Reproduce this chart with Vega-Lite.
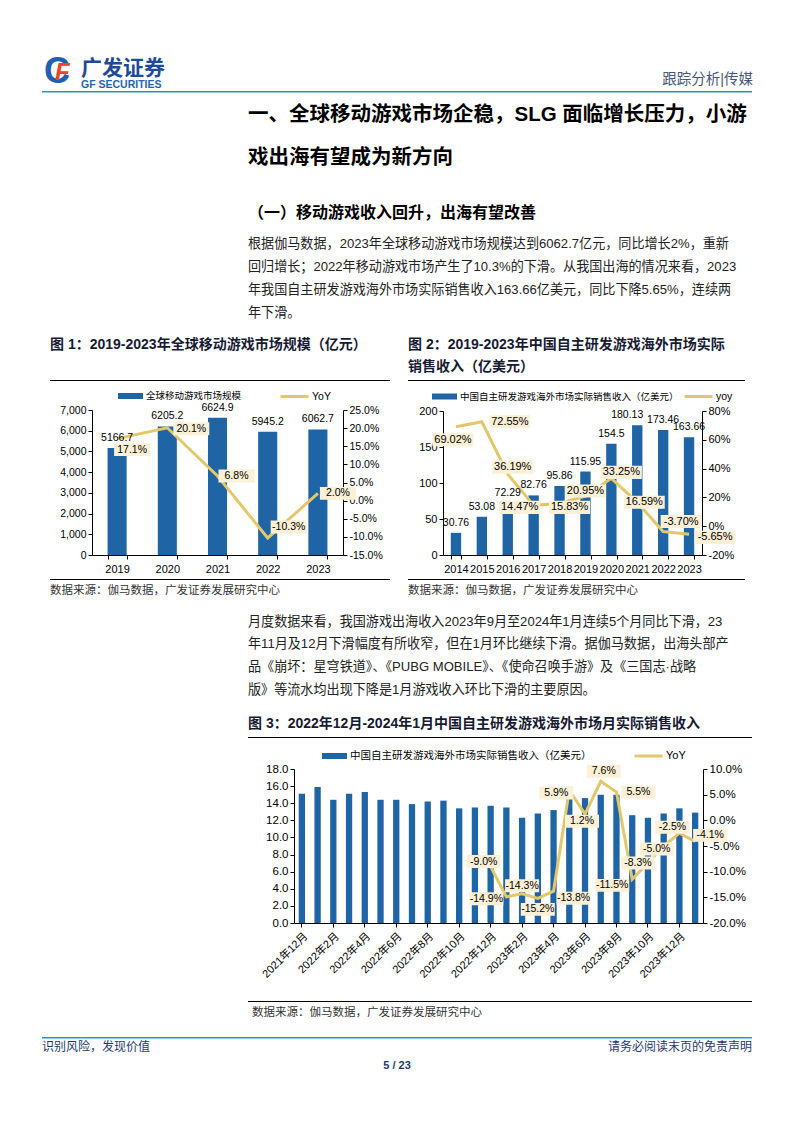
{
  "$schema": "https://vega.github.io/schema/vega-lite/v6.json",
  "background": "#ffffff",
  "padding": {"left": 42, "top": 0, "right": 0, "bottom": 0},
  "config": {
    "font": "Liberation Sans, Noto Sans CJK SC",
    "view": {"stroke": null},
    "axis": {"grid": false, "domainColor": "#000000", "tickColor": "#000000", "labelColor": "#000000", "labelFontSize": 10.5, "tickSize": 4, "labelFont": "Liberation Sans, Noto Sans CJK SC"},
    "locale": {"number": {"decimal": ".", "thousands": ",", "grouping": [3], "currency": ["", ""], "minus": "-"}},
    "title": {"orient": "bottom", "anchor": "start", "baseline": "top", "fontWeight": "normal", "font": "Liberation Sans, Noto Sans CJK SC"}
  },
  "spacing": 0,
  "resolve": {"scale": {"fill": "independent", "stroke": "independent"}},
  "vconcat": [
    {
      "hconcat": [
        {"width": 0.01, "height": 91, "view": {"fill": "#ffffff"}, "data": {"values": []}, "mark": "point",
         "title": {"text": "C", "offset": -36.5, "dx": 2, "fontSize": 36, "fontWeight": "bold", "color": "#1d5fb0", "font": "Liberation Sans"}},
        {"width": 38, "height": 91, "data": {"values": []}, "mark": "point",
         "title": {"text": "F", "offset": -30.5, "dx": 12, "fontSize": 24, "fontWeight": "bold", "fontStyle": "italic", "color": "#e8462b", "font": "Liberation Sans"}},
        {"width": 317, "height": 91, "data": {"values": []}, "mark": "point",
         "title": {"text": "广发证券", "subtitle": "GF SECURITIES", "offset": -33.5, "fontSize": 21, "fontWeight": "bold", "color": "#1c4a9c", "font": "Noto Sans CJK SC", "subtitleFont": "Liberation Sans", "subtitleFontSize": 10.5, "subtitleFontWeight": "bold", "subtitleColor": "#1f66b4", "subtitlePadding": 1}},
        {"width": 355, "height": 91, "data": {"values": []}, "mark": "point",
         "title": {"text": "跟踪分析|传媒", "anchor": "end", "offset": -18.5, "fontSize": 14.5, "color": "#47577a"}}
      ],
      "spacing": 0, "bounds": "flush", "align": "each"
    },
    {"width": 710, "height": 1.5, "view": {"fill": "#2b8fd6"}, "data": {"values": []}, "mark": "point"},
    {"width": 710, "height": 105, "view": {"fill": "#ffffff"}, "data": {"values": []}, "mark": "point",
     "title": {"text": ["一、全球移动游戏市场企稳，SLG 面临增长压力，小游", "戏出海有望成为新方向"], "offset": -93, "dx": 206, "fontSize": 20.5, "fontWeight": "bold", "lineHeight": 43, "color": "#000000"}},
    {"width": 710, "height": 32, "view": {"fill": "#ffffff"}, "data": {"values": []}, "mark": "point",
     "title": {"text": "（一）移动游戏收入回升，出海有望改善", "offset": -24.8, "dx": 206, "fontSize": 16, "fontWeight": "bold", "color": "#000000"}},
    {"width": 710, "height": 100, "view": {"fill": "#ffffff"}, "data": {"values": []}, "mark": "point",
     "title": {"text": ["根据伽马数据，2023年全球移动游戏市场规模达到6062.7亿元，同比增长2%，重新", "回归增长；2022年移动游戏市场产生了10.3%的下滑。从我国出海的情况来看，2023", "年我国自主研发游戏海外市场实际销售收入163.66亿美元，同比下降5.65%，连续两", "年下滑。"], "offset": -91.6, "dx": 206, "fontSize": 13.1, "lineHeight": 23, "color": "#222222"}},
    {
      "hconcat": [
        {"width": 8, "height": 49.5, "view": {"fill": "#ffffff"}, "data": {"values": []}, "mark": "point"},
        {"width": 340, "height": 49.5, "data": {"values": []}, "mark": "point",
         "title": {"text": "图 1：2019-2023年全球移动游戏市场规模（亿元）", "offset": -42, "fontSize": 14, "fontWeight": "bold", "color": "#161a33"}},
        {"width": 18, "height": 49.5, "data": {"values": []}, "mark": "point"},
        {"width": 337, "height": 49.5, "data": {"values": []}, "mark": "point",
         "title": {"text": ["图 2：2019-2023年中国自主研发游戏海外市场实际", "销售收入（亿美元）"], "offset": -42, "fontSize": 14, "fontWeight": "bold", "lineHeight": 22, "color": "#161a33"}}
      ],
      "spacing": 0, "bounds": "flush", "align": "each"
    },
    {
      "hconcat": [
        {"width": 8, "height": 1, "view": {"fill": "#ffffff"}, "data": {"values": []}, "mark": "point"},
        {"width": 340, "height": 1, "view": {"fill": "#000000"}, "data": {"values": []}, "mark": "point"},
        {"width": 18, "height": 1, "data": {"values": []}, "mark": "point"},
        {"width": 337, "height": 1, "view": {"fill": "#000000"}, "data": {"values": []}, "mark": "point"}
      ],
      "spacing": 0, "bounds": "flush", "align": "each"
    },
    {
      "hconcat": [
        {"width": 50, "height": 198, "view": {"fill": "#ffffff"}, "data": {"values": []}, "mark": "point"},
        {
          "width": 251, "height": 174,
          "data": {"values": [
            {"year": "2019", "value": 5166.7, "yoy": 0.171},
            {"year": "2020", "value": 6205.2, "yoy": 0.201},
            {"year": "2021", "value": 6624.9, "yoy": 0.068},
            {"year": "2022", "value": 5945.2, "yoy": -0.103},
            {"year": "2023", "value": 6062.7, "yoy": 0.020}
          ]},
          "encoding": {
            "x": {"field": "year", "type": "ordinal", "scale": {"paddingInner": 0.62, "paddingOuter": 0.31},
                  "axis": {"title": null, "labelAngle": 0, "tickBand": "extent", "labelPadding": 4, "labelFontSize": 11}}
          },
          "layer": [
            {
              "mark": {"type": "bar"},
              "encoding": {
                "y": {"field": "value", "type": "quantitative", "scale": {"domain": [0, 7000], "nice": false, "range": [174, 29]},
                      "axis": {"orient": "left", "title": null, "values": [0, 1000, 2000, 3000, 4000, 5000, 6000, 7000], "format": ",d"}},
                "fill": {"datum": "全球移动游戏市场规模", "scale": {"range": ["#1f64a4"]},
                  "legend": {"orient": "none", "legendX": 26, "legendY": 2.5, "title": null, "padding": 0, "symbolType": "M-1,-0.24H1V0.24H-1Z", "symbolSize": 625, "symbolStrokeWidth": 0, "labelFont": "Noto Sans CJK SC", "labelFontSize": 9.5, "labelColor": "#000000", "labelOffset": 3}}
              }
            },
            {
              "encoding": {"y": {"field": "yoy", "type": "quantitative", "scale": {"domain": [-0.15, 0.25], "nice": false, "range": [174, 29]},
                                 "axis": {"orient": "right", "title": null, "values": [-0.15, -0.1, -0.05, 0, 0.05, 0.1, 0.15, 0.2, 0.25], "format": ".1%"}}},
              "layer": [
                {"mark": {"type": "line", "strokeWidth": 3},
                 "encoding": {"stroke": {"datum": "YoY", "scale": {"range": ["#e5c76b"]},
                   "legend": {"orient": "none", "legendX": 187, "legendY": 0, "title": null, "padding": 0, "symbolType": "stroke", "symbolSize": 784, "symbolStrokeWidth": 3, "labelFontSize": 10.5, "labelColor": "#000000", "labelOffset": 2}}}},
                {"mark": {"type": "point", "shape": "M-1,-0.36H1V0.36H-1Z", "size": 1296, "filled": true, "fill": "#fcf0d6", "opacity": 1, "strokeWidth": 0,
                          "xOffset": {"expr": "({'2019': 15, '2020': 24, '2021': 19, '2022': 21, '2023': 20})[datum.year]"},
                          "yOffset": {"expr": "({'2019': 11, '2020': 1, '2021': 0, '2022': -11, '2023': 0})[datum.year]"}}},
                {"mark": {"type": "text", "fontSize": 10.5, "color": "#000000",
                          "xOffset": {"expr": "({'2019': 15, '2020': 24, '2021': 19, '2022': 21, '2023': 20})[datum.year]"},
                          "yOffset": {"expr": "({'2019': 11, '2020': 1, '2021': 0, '2022': -11, '2023': 0})[datum.year]"}},
                 "encoding": {"text": {"field": "yoy", "type": "quantitative", "format": ".1%"}}}
              ]
            },
            {
              "mark": {"type": "text", "baseline": "bottom", "dy": -5, "fontSize": 10.5, "color": "#000000"},
              "encoding": {
                "y": {"field": "value", "type": "quantitative", "scale": {"domain": [0, 7000], "nice": false, "range": [174, 29]}, "axis": null},
                "text": {"field": "value", "type": "quantitative", "format": ".1f"}
              }
            }
          ],
          "resolve": {"scale": {"y": "independent"}}
        },
        {"width": 100, "height": 1, "data": {"values": []}, "mark": "point"},
        {
          "width": 259, "height": 174,
          "data": {"values": [
            {"year": "2014", "value": 30.76, "yoy": 0.6902},
            {"year": "2015", "value": 53.08, "yoy": 0.7255},
            {"year": "2016", "value": 72.29, "yoy": 0.3619},
            {"year": "2017", "value": 82.76, "yoy": 0.1447},
            {"year": "2018", "value": 95.86, "yoy": 0.1583},
            {"year": "2019", "value": 115.95, "yoy": 0.2095},
            {"year": "2020", "value": 154.5, "yoy": 0.3325},
            {"year": "2021", "value": 180.13, "yoy": 0.1659},
            {"year": "2022", "value": 173.46, "yoy": -0.0370},
            {"year": "2023", "value": 163.66, "yoy": -0.0565}
          ]},
          "encoding": {
            "x": {"field": "year", "type": "ordinal", "scale": {"paddingInner": 0.6, "paddingOuter": 0.3},
                  "axis": {"title": null, "labelAngle": 0, "tickBand": "extent", "labelPadding": 4, "labelFontSize": 11}}
          },
          "layer": [
            {
              "mark": {"type": "bar"},
              "encoding": {
                "y": {"field": "value", "type": "quantitative", "scale": {"domain": [0, 200], "nice": false, "range": [174, 30]},
                      "axis": {"orient": "left", "title": null, "values": [0, 50, 100, 150, 200], "format": "d", "labelFontSize": 11}},
                "fill": {"datum": "中国自主研发游戏海外市场实际销售收入（亿美元）", "scale": {"range": ["#1f64a4"]},
                  "legend": {"orient": "none", "legendX": -11, "legendY": 3, "title": null, "padding": 0, "symbolType": "M-1,-0.24H1V0.24H-1Z", "symbolSize": 625, "symbolStrokeWidth": 0, "labelFont": "Noto Sans CJK SC", "labelFontSize": 9.5, "labelColor": "#000000", "labelOffset": 3, "labelLimit": 400}}
              }
            },
            {
              "encoding": {"y": {"field": "yoy", "type": "quantitative", "scale": {"domain": [-0.2, 0.8], "nice": false, "range": [174, 30]},
                                 "axis": {"orient": "right", "title": null, "values": [-0.2, 0, 0.2, 0.4, 0.6, 0.8], "format": ".0%", "labelFontSize": 11}}},
              "layer": [
                {"mark": {"type": "line", "strokeWidth": 3},
                 "encoding": {"stroke": {"datum": "yoy", "scale": {"range": ["#e5c76b"]},
                   "legend": {"orient": "none", "legendX": 240, "legendY": 0, "title": null, "padding": 0, "symbolType": "stroke", "symbolSize": 784, "symbolStrokeWidth": 3, "labelFontSize": 10.5, "labelColor": "#000000", "labelOffset": 2}}}},
                {"mark": {"type": "point", "shape": "M-1,-0.32H1V0.32H-1Z", "size": 1681, "filled": true, "fill": "#fcf0d6", "opacity": 1, "strokeWidth": 0,
                          "xOffset": {"expr": "({'2014': -3, '2015': 28, '2016': 5, '2017': -14, '2018': 10, '2019': 0, '2020': 10, '2021': 7, '2022': 18, '2023': 26})[datum.year]"},
                          "yOffset": {"expr": "({'2014': 13, '2015': 0, '2016': -7, '2017': 2, '2018': 4, '2019': -5, '2020': -6, '2021': 0, '2022': -10, '2023': 3})[datum.year]"}}},
                {"mark": {"type": "text", "fontSize": 11, "color": "#000000",
                          "xOffset": {"expr": "({'2014': -3, '2015': 28, '2016': 5, '2017': -14, '2018': 10, '2019': 0, '2020': 10, '2021': 7, '2022': 18, '2023': 26})[datum.year]"},
                          "yOffset": {"expr": "({'2014': 13, '2015': 0, '2016': -7, '2017': 2, '2018': 4, '2019': -5, '2020': -6, '2021': 0, '2022': -10, '2023': 3})[datum.year]"}},
                 "encoding": {"text": {"field": "yoy", "type": "quantitative", "format": ".2%"}}}
              ]
            },
            {
              "mark": {"type": "text", "baseline": "bottom", "dy": -5, "fontSize": 10.5, "color": "#000000",
                       "xOffset": {"expr": "datum.year == '2021' ? -10 : 0"}},
              "encoding": {
                "y": {"field": "value", "type": "quantitative", "scale": {"domain": [0, 200], "nice": false, "range": [174, 30]}, "axis": null},
                "text": {"field": "value", "type": "quantitative", "format": "~f"}
              }
            }
          ],
          "resolve": {"scale": {"y": "independent"}}
        }
      ],
      "spacing": 0, "bounds": "flush", "align": "each",
      "resolve": {"scale": {"fill": "independent", "stroke": "independent"}}
    },
    {
      "hconcat": [
        {"width": 8, "height": 30, "view": {"fill": "#ffffff"}, "data": {"values": []}, "mark": "point"},
        {"width": 340, "height": 1, "view": {"fill": "#000000"}, "data": {"values": []}, "mark": "point",
         "title": {"text": "数据来源：伽马数据，广发证券发展研究中心", "offset": 4.8, "fontSize": 11.5, "color": "#333333"}},
        {"width": 18, "height": 1, "data": {"values": []}, "mark": "point"},
        {"width": 337, "height": 1, "view": {"fill": "#000000"}, "data": {"values": []}, "mark": "point",
         "title": {"text": "数据来源：伽马数据，广发证券发展研究中心", "offset": 4.8, "fontSize": 11.5, "color": "#333333"}}
      ],
      "spacing": 0, "bounds": "flush", "align": "each"
    },
    {"width": 710, "height": 100, "view": {"fill": "#ffffff"}, "data": {"values": []}, "mark": "point",
     "title": {"text": ["月度数据来看，我国游戏出海收入2023年9月至2024年1月连续5个月同比下滑，23", "年11月及12月下滑幅度有所收窄，但在1月环比继续下滑。据伽马数据，出海头部产", "品《崩坏：星穹铁道》、《PUBG MOBILE》、《使命召唤手游》及《三国志·战略", "版》等流水均出现下降是1月游戏收入环比下滑的主要原因。"], "offset": -93.5, "dx": 206, "fontSize": 13.1, "lineHeight": 22.7, "color": "#222222"}},
    {
      "hconcat": [
        {"width": 206, "height": 28, "view": {"fill": "#ffffff"}, "data": {"values": []}, "mark": "point"},
        {"width": 504, "height": 28, "data": {"values": []}, "mark": "point",
         "title": {"text": "图 3：2022年12月-2024年1月中国自主研发游戏海外市场月实际销售收入", "offset": -20, "fontSize": 14, "fontWeight": "bold", "color": "#161a33"}}
      ],
      "spacing": 0, "bounds": "flush", "align": "each"
    },
    {
      "hconcat": [
        {"width": 206, "height": 1, "view": {"fill": "#ffffff"}, "data": {"values": []}, "mark": "point"},
        {"width": 504, "height": 1, "view": {"fill": "#000000"}, "data": {"values": []}, "mark": "point"}
      ],
      "spacing": 0, "bounds": "flush", "align": "each"
    },
    {
      "hconcat": [
        {"width": 252, "height": 263, "view": {"fill": "#ffffff"}, "data": {"values": []}, "mark": "point"},
        {
          "width": 409, "height": 185,
          "data": {"values": [
            {"month": "2021年12月", "value": 15.1, "yoy": null},
            {"month": "2022年1月", "value": 15.9, "yoy": null},
            {"month": "2022年2月", "value": 14.4, "yoy": null},
            {"month": "2022年3月", "value": 15.1, "yoy": null},
            {"month": "2022年4月", "value": 15.3, "yoy": null},
            {"month": "2022年5月", "value": 14.4, "yoy": null},
            {"month": "2022年6月", "value": 14.4, "yoy": null},
            {"month": "2022年7月", "value": 13.9, "yoy": null},
            {"month": "2022年8月", "value": 14.2, "yoy": null},
            {"month": "2022年9月", "value": 14.3, "yoy": null},
            {"month": "2022年10月", "value": 13.4, "yoy": null},
            {"month": "2022年11月", "value": 13.5, "yoy": null},
            {"month": "2022年12月", "value": 13.7, "yoy": -0.090},
            {"month": "2023年1月", "value": 13.5, "yoy": -0.149},
            {"month": "2023年2月", "value": 12.3, "yoy": -0.143},
            {"month": "2023年3月", "value": 12.8, "yoy": -0.152},
            {"month": "2023年4月", "value": 13.2, "yoy": -0.138},
            {"month": "2023年5月", "value": 15.2, "yoy": 0.059},
            {"month": "2023年6月", "value": 14.6, "yoy": 0.012},
            {"month": "2023年7月", "value": 15.0, "yoy": 0.076},
            {"month": "2023年8月", "value": 15.0, "yoy": 0.055},
            {"month": "2023年9月", "value": 12.6, "yoy": -0.115},
            {"month": "2023年10月", "value": 12.3, "yoy": -0.083},
            {"month": "2023年11月", "value": 12.8, "yoy": -0.050},
            {"month": "2023年12月", "value": 13.4, "yoy": -0.025},
            {"month": "2024年1月", "value": 12.9, "yoy": -0.041}
          ]},
          "encoding": {
            "x": {"field": "month", "type": "ordinal",
                  "scale": {"domain": ["2021年12月", "2022年1月", "2022年2月", "2022年3月", "2022年4月", "2022年5月", "2022年6月", "2022年7月", "2022年8月", "2022年9月", "2022年10月", "2022年11月", "2022年12月", "2023年1月", "2023年2月", "2023年3月", "2023年4月", "2023年5月", "2023年6月", "2023年7月", "2023年8月", "2023年9月", "2023年10月", "2023年11月", "2023年12月", "2024年1月"], "paddingInner": 0.6, "paddingOuter": 0.3},
                  "axis": {"title": null, "labelAngle": -45, "labelPadding": 3, "labelFontSize": 11, "values": ["2021年12月", "2022年2月", "2022年4月", "2022年6月", "2022年8月", "2022年10月", "2022年12月", "2023年2月", "2023年4月", "2023年6月", "2023年8月", "2023年10月", "2023年12月"]}}
          },
          "layer": [
            {
              "mark": {"type": "bar"},
              "encoding": {
                "y": {"field": "value", "type": "quantitative", "scale": {"domain": [0, 18], "nice": false, "range": [185, 31]},
                      "axis": {"orient": "left", "title": null, "values": [0, 2, 4, 6, 8, 10, 12, 14, 16, 18], "format": ".1f", "labelFontSize": 11.5}},
                "fill": {"datum": "中国自主研发游戏海外市场实际销售收入（亿美元）", "scale": {"range": ["#1f64a4"]},
                  "legend": {"orient": "none", "legendX": 28, "legendY": 5.5, "title": null, "padding": 0, "symbolType": "M-1,-0.24H1V0.24H-1Z", "symbolSize": 625, "symbolStrokeWidth": 0, "labelFont": "Noto Sans CJK SC", "labelFontSize": 10.5, "labelColor": "#000000", "labelOffset": 3, "labelLimit": 400}}
              }
            },
            {
              "transform": [{"filter": "isValid(datum.yoy)"}],
              "encoding": {"y": {"field": "yoy", "type": "quantitative", "scale": {"domain": [-0.2, 0.1], "nice": false, "range": [185, 31]},
                                 "axis": {"orient": "right", "title": null, "values": [-0.2, -0.15, -0.1, -0.05, 0, 0.05, 0.1], "format": ".1%", "labelFontSize": 11.5}}},
              "layer": [
                {"mark": {"type": "line", "strokeWidth": 3},
                 "encoding": {"stroke": {"datum": "YoY", "scale": {"range": ["#e5c76b"]},
                   "legend": {"orient": "none", "legendX": 339, "legendY": 2.5, "title": null, "padding": 0, "symbolType": "stroke", "symbolSize": 784, "symbolStrokeWidth": 3, "labelFontSize": 11, "labelColor": "#000000", "labelOffset": 2}}}},
                {"mark": {"type": "point", "shape": "M-1,-0.38H1V0.38H-1Z", "size": 1156, "filled": true, "fill": "#fcf0d6", "opacity": 1, "strokeWidth": 0,
                          "xOffset": {"expr": "({'2022年12月': -7, '2023年1月': -20, '2023年2月': 0, '2023年3月': 0, '2023年4月': 20, '2023年5月': -13, '2023年6月': -3, '2023年7月': 3, '2023年8月': 22, '2023年9月': -20, '2023年10月': -10, '2023年11月': -7, '2023年12月': -7, '2024年1月': 15})[datum.month]"},
                          "yOffset": {"expr": "({'2022年12月': -5, '2023年1月': 2, '2023年2月': -8, '2023年3月': 11, '2023年4月': 7, '2023年5月': 3, '2023年6月': 7, '2023年7月': -10, '2023年8月': 0, '2023年9月': 6, '2023年10月': 0, '2023年11月': 3, '2023年12月': -6, '2024年1月': -6})[datum.month]"}}},
                {"mark": {"type": "text", "fontSize": 10.5, "color": "#000000",
                          "xOffset": {"expr": "({'2022年12月': -7, '2023年1月': -20, '2023年2月': 0, '2023年3月': 0, '2023年4月': 20, '2023年5月': -13, '2023年6月': -3, '2023年7月': 3, '2023年8月': 22, '2023年9月': -20, '2023年10月': -10, '2023年11月': -7, '2023年12月': -7, '2024年1月': 15})[datum.month]"},
                          "yOffset": {"expr": "({'2022年12月': -5, '2023年1月': 2, '2023年2月': -8, '2023年3月': 11, '2023年4月': 7, '2023年5月': 3, '2023年6月': 7, '2023年7月': -10, '2023年8月': 0, '2023年9月': 6, '2023年10月': 0, '2023年11月': 3, '2023年12月': -6, '2024年1月': -6})[datum.month]"}},
                 "encoding": {"text": {"field": "yoy", "type": "quantitative", "format": ".1%"}}}
              ]
            }
          ],
          "resolve": {"scale": {"y": "independent"}}
        }
      ],
      "spacing": 0, "bounds": "flush", "align": "each",
      "resolve": {"scale": {"fill": "independent", "stroke": "independent"}}
    },
    {
      "hconcat": [
        {"width": 206, "height": 36, "view": {"fill": "#ffffff"}, "data": {"values": []}, "mark": "point"},
        {"width": 504, "height": 1, "view": {"fill": "#000000"}, "data": {"values": []}, "mark": "point",
         "title": {"text": "数据来源：伽马数据，广发证券发展研究中心", "offset": 4.8, "dx": 4, "fontSize": 11.5, "color": "#333333"}}
      ],
      "spacing": 0, "bounds": "flush", "align": "each"
    },
    {"width": 710, "height": 1.5, "view": {"fill": "#2b8fd6"}, "data": {"values": []}, "mark": "point"},
    {
      "hconcat": [
        {"width": 236, "height": 40, "view": {"fill": "#ffffff"}, "data": {"values": []}, "mark": "point",
         "title": {"text": "识别风险，发现价值", "offset": -37.5, "fontSize": 12, "color": "#1f3a6e"}},
        {"width": 238, "height": 40, "data": {"values": []}, "mark": "point",
         "title": {"text": "5 / 23", "anchor": "middle", "offset": -19, "fontSize": 11, "fontWeight": "bold", "color": "#1f3a6e"}},
        {"width": 236, "height": 40, "data": {"values": []}, "mark": "point",
         "title": {"text": "请务必阅读末页的免责声明", "anchor": "end", "offset": -37.5, "fontSize": 12, "color": "#1f3a6e"}}
      ],
      "spacing": 0, "bounds": "flush", "align": "each"
    }
  ]
}
